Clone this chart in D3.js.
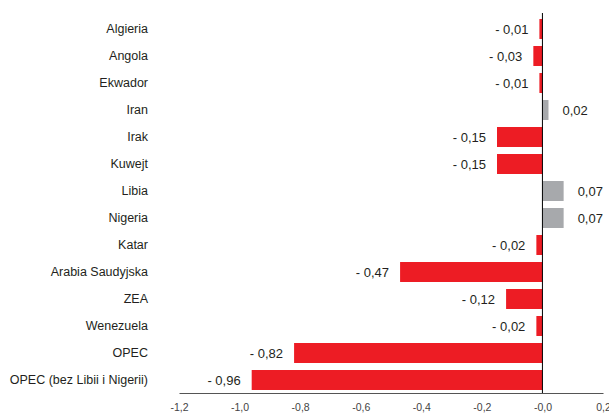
<!DOCTYPE html>
<html>
<head>
<meta charset="utf-8">
<script src="https://cdn.jsdelivr.net/npm/d3@7"></script>
<style>
body{margin:0;background:#fff;}
text{font-family:"Liberation Sans",Arial,sans-serif;}
</style>
</head>
<body>
<svg id="chart" width="609" height="418"></svg>
<script>
// dane
var categories=["Algieria","Angola","Ekwador","Iran","Irak","Kuwejt","Libia","Nigeria","Katar","Arabia Saudyjska","ZEA","Wenezuela","OPEC","OPEC (bez Libii i Nigerii)"];
var values=[-0.01,-0.03,-0.01,0.02,-0.15,-0.15,0.07,0.07,-0.02,-0.47,-0.12,-0.02,-0.82,-0.96];
var tickValues=[-1.2,-1.0,-0.8,-0.6,-0.4,-0.2,0,0.2];
var tickLabels=["-1,2","-1,0","-0,8","-0,6","-0,4","-0,2","-0,0","0,2"];

var svg=d3.select("#chart");
var x=d3.scaleLinear().domain([-1.2,0.2]).range([179,603]);
var y=d3.scaleBand().domain(categories).range([15.5,393.5]).paddingInner(0.26).paddingOuter(0.13);

function fmt(v){
	var s=Math.abs(v).toFixed(2).replace(".",",");
	return v<0?"- "+s:s;
}

// slupki
svg.selectAll("rect.bar").data(values).enter().append("rect")
	.attr("class","bar")
	.attr("x",function(d){return x(Math.min(0,d));})
	.attr("y",function(d,i){return y(categories[i]);})
	.attr("width",function(d){return Math.abs(x(d)-x(0));})
	.attr("height",y.bandwidth())
	.attr("fill",function(d){return d<0?"#ED1C24":"#A7A9AC";});

// etykiety wartosci
svg.selectAll("text.val").data(values).enter().append("text")
	.attr("class","val")
	.attr("x",function(d){return d<0?x(d)-11:x(d)+14;})
	.attr("y",function(d,i){return y(categories[i])+y.bandwidth()/2;})
	.attr("dy","0.35em")
	.attr("text-anchor",function(d){return d<0?"end":"start";})
	.attr("font-size","13px")
	.attr("fill","#231f20")
	.text(fmt);

// kategorie
svg.selectAll("text.cat").data(categories).enter().append("text")
	.attr("class","cat")
	.attr("x",148)
	.attr("y",function(d){return y(d)+y.bandwidth()/2;})
	.attr("dy","0.35em")
	.attr("text-anchor","end")
	.attr("font-size","12.5px")
	.attr("fill","#231f20")
	.text(function(d){return d;});

// os x
var xAxis=d3.axisBottom(x).tickValues(tickValues).tickSize(0).tickPadding(11)
	.tickFormat(function(d,i){return tickLabels[i];});
var gx=svg.append("g").attr("transform","translate(0,393)").call(xAxis);
gx.select(".domain").attr("stroke","#555").attr("stroke-width",1.2);
gx.selectAll("text").attr("font-size","10.5px").attr("fill","#444").attr("font-family","Liberation Sans,Arial,sans-serif");

// linia zera
svg.append("line")
	.attr("x1",x(0)).attr("x2",x(0))
	.attr("y1",13).attr("y2",393)
	.attr("stroke","#000").attr("stroke-width",1);
</script>
</body>
</html>
